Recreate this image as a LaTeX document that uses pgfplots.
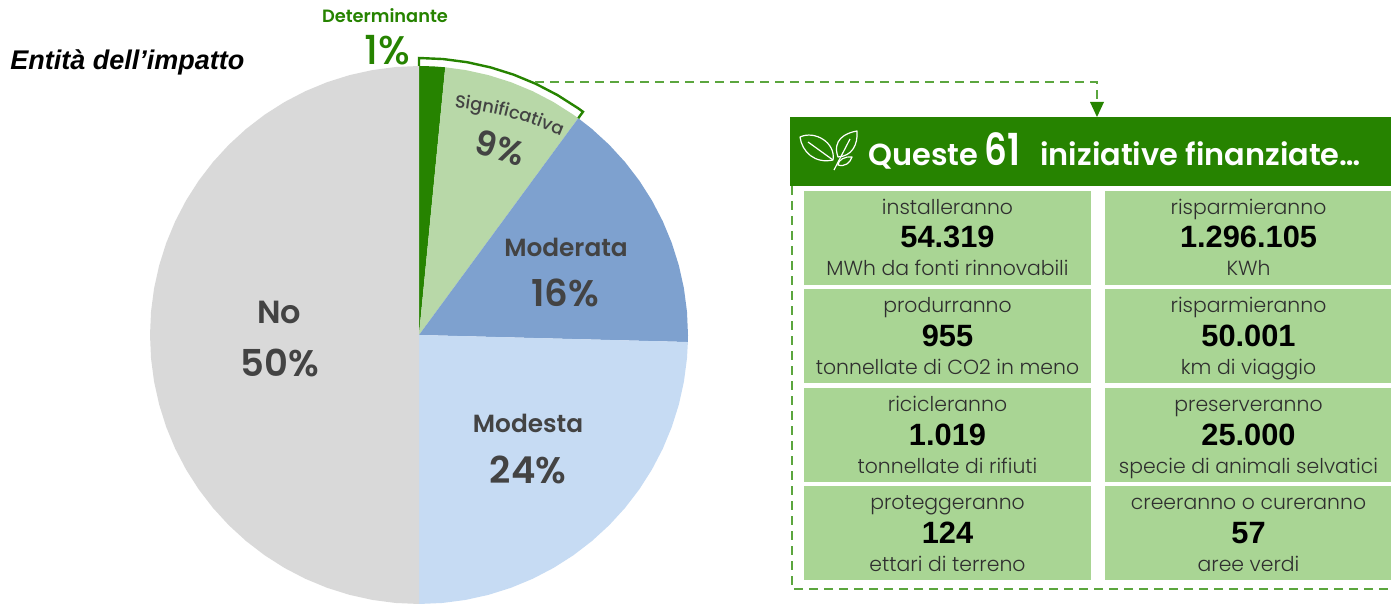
\documentclass[border=0pt]{standalone}
\usepackage{fontspec}
\usepackage{graphicx}
\usepackage{pgfplots}
\pgfplotsset{compat=1.18}
\usepgfplotslibrary{polar}
\usetikzlibrary{arrows.meta,decorations.text}
\setmainfont{Poppins Light}[BoldFont={Poppins SemiBold}]
\newfontfamily\arial{Liberation Sans}
\newfontfamily\medium{Poppins Medium}
\definecolor{dgreen}{HTML}{268300}
\definecolor{lgreen}{HTML}{B8D8A8}
\definecolor{cellg}{HTML}{A9D594}
\definecolor{dashg}{HTML}{5BA63E}
\definecolor{dblue}{HTML}{7EA1CF}
\definecolor{lblue}{HTML}{C6DBF3}
\definecolor{pgrey}{HTML}{D9D9D9}
\definecolor{ink}{HTML}{434343}
\newcommand{\fs}[1]{\fontsize{#1}{#1}\selectfont}
% one green panel: left x, top y, three lines of text
\newcommand{\cell}[5]{%
  \fill[cellg] (axis cs:#1,#2) rectangle (axis cs:#1+287,#2+94);
  \node[anchor=base, text=ink!70!black] at (axis cs:#1+143.5,#2+23.5) {\fs{10.2}#3};
  \node[anchor=base, text=black] at (axis cs:#1+143.5,#2+57) {\fs{15.4}\arial\bfseries #4};
  \node[anchor=base, text=ink!70!black] at (axis cs:#1+143.5,#2+85) {\fs{10.2}#5};
}
\begin{document}
\begin{tikzpicture}
\useasboundingbox (0,0) rectangle (695.5pt,302pt);
% pie, angles in degrees counter clockwise from east, radius in reference pixels
\begin{polaraxis}[
    at={(209.5pt,134.5pt)}, anchor=center,
    scale only axis, width=280pt, height=280pt,
    xmin=0, xmax=360, ymin=0, ymax=280,
    hide axis, clip=false,
]
% Determinante
\addplot[no markers, fill=dgreen, draw=none] coordinates {(90,0)(90,269)(87,269)(84.4,269)};
% Significativa
\addplot[no markers, fill=lgreen, draw=none] coordinates {(84.4,0)(84.4,269)(80,269)(75,269)(70,269)(65,269)(60,269)(55,269)(53.7,269)};
% Moderata
\addplot[no markers, fill=dblue, draw=none] coordinates {(53.7,0)(53.7,269)(50,269)(45,269)(40,269)(35,269)(30,269)(25,269)(20,269)(15,269)(10,269)(5,269)(0,269)(-1.5,269)};
% Modesta
\addplot[no markers, fill=lblue, draw=none] coordinates {(-1.5,0)(-1.5,269)(-5,269)(-10,269)(-15,269)(-20,269)(-25,269)(-30,269)(-35,269)(-40,269)(-45,269)(-50,269)(-55,269)(-60,269)(-65,269)(-70,269)(-75,269)(-80,269)(-85,269)(-90,269)};
% No
\addplot[no markers, fill=pgrey, draw=none] coordinates {(90,0)(90,269)(95,269)(100,269)(105,269)(110,269)(115,269)(120,269)(125,269)(130,269)(135,269)(140,269)(145,269)(150,269)(155,269)(160,269)(165,269)(170,269)(175,269)(180,269)(185,269)(190,269)(195,269)(200,269)(205,269)(210,269)(215,269)(220,269)(225,269)(230,269)(235,269)(240,269)(245,269)(250,269)(255,269)(260,269)(265,269)(270,269)};
% outline round the two green slices
\addplot[no markers, draw=dgreen, line width=1.2pt, line join=miter] coordinates {(90,269)(90,277)(85,277)(80,277)(75,277)(70,277)(65,277)(60,277)(55,277)(53.7,277)(53.7,269)};
\end{polaraxis}
% everything else, in reference pixels
\begin{axis}[
    at={(0,0)}, anchor=south west,
    scale only axis, width=695.5pt, height=302pt,
    xmin=0, xmax=1391, ymin=0, ymax=604, y dir=reverse,
    hide axis, clip=false,
]
\fill[dgreen] (axis cs:790,117) rectangle (axis cs:1391,186);
\cell{804}{191}{installeranno}{54.319}{MWh da fonti rinnovabili}
\cell{1105}{191}{risparmieranno}{1.296.105}{KWh}
\cell{804}{289}{produrranno}{955}{tonnellate di CO2 in meno}
\cell{1105}{289}{risparmieranno}{50.001}{km di viaggio}
\cell{804}{388}{ricicleranno}{1.019}{tonnellate di rifiuti}
\cell{1105}{388}{preserveranno}{25.000}{specie di animali selvatici}
\cell{804}{486}{proteggeranno}{124}{ettari di terreno}
\cell{1105}{486}{creeranno o cureranno}{57}{aree verdi}
% dashed connector and frame
\addplot[no markers, draw=dashg, line width=1.4pt, dash pattern=on 4.5pt off 3pt] coordinates {(535,82)(1097,82)(1097,106)};
\addplot[no markers, draw=dashg, line width=1.4pt, dash pattern=on 4.5pt off 3pt] coordinates {(792,186)(792,589)(1391,589)};
\addplot[no markers, fill=dgreen, draw=none] coordinates {(1090,102)(1104,102)(1097,117)};
% leaf icon
\begin{scope}[draw=white, line width=0.6pt, line join=round]
\draw (axis cs:800,137) .. controls (axis cs:815,130) and (axis cs:836,143) .. (axis cs:833,160) .. controls (axis cs:815,164) and (axis cs:802,152) .. cycle;
\draw (axis cs:808,142) -- (axis cs:833,160);
\draw (axis cs:857,131) .. controls (axis cs:845,133) and (axis cs:832,140) .. (axis cs:838,157) .. controls (axis cs:852,156) and (axis cs:858,145) .. cycle;
\draw (axis cs:850,139) -- (axis cs:834,170);
\draw (axis cs:852,157) .. controls (axis cs:845,156) and (axis cs:838,160) .. (axis cs:838,165) .. controls (axis cs:845,167) and (axis cs:850,163) .. cycle;
\end{scope}
\node[anchor=base west, inner sep=0pt, text=white] at (axis cs:868,166) {\fs{15.2}\bfseries Queste};
\node[anchor=base west, inner sep=0pt, text=white] at (axis cs:984,166) {\scalebox{0.85}[1.05]{\fs{21}\bfseries 61}};
\node[anchor=base west, inner sep=0pt, text=white] at (axis cs:1040,166) {\fs{15.2}\bfseries iniziative finanziate\ldots};
% pie labels
\node[anchor=west, inner sep=0pt] at (axis cs:10,62) {\fs{13.5}\arial\bfseries\itshape Entità dell’impatto};
\node[text=dgreen, inner sep=0pt] at (axis cs:385,16) {\fs{8.9}\bfseries Determinante};
\node[text=dgreen, inner sep=0pt] at (axis cs:387,50) {\fs{20}\medium 1\%};
\path[decorate, decoration={text along path, text align=center, text={|\fs{8.9}\medium\color{ink}|Significativa}}]
    (axis cs:451,107) to[bend left=8] (axis cs:564,137);
\node[text=ink, rotate=-17] at (axis cs:500,148) {\fs{17}\bfseries 9\%};
\node[text=ink] at (axis cs:566,247) {\fs{12.4}\bfseries Moderata};
\node[text=ink] at (axis cs:565,293) {\fs{18.5}\bfseries 16\%};
\node[text=ink] at (axis cs:528,423) {\fs{12.4}\bfseries Modesta};
\node[text=ink] at (axis cs:528,470) {\fs{18.5}\bfseries 24\%};
\node[text=ink] at (axis cs:279,312) {\fs{16}\bfseries No};
\node[text=ink] at (axis cs:280,363) {\fs{18.5}\bfseries 50\%};
\end{axis}
\end{tikzpicture}
\end{document}
